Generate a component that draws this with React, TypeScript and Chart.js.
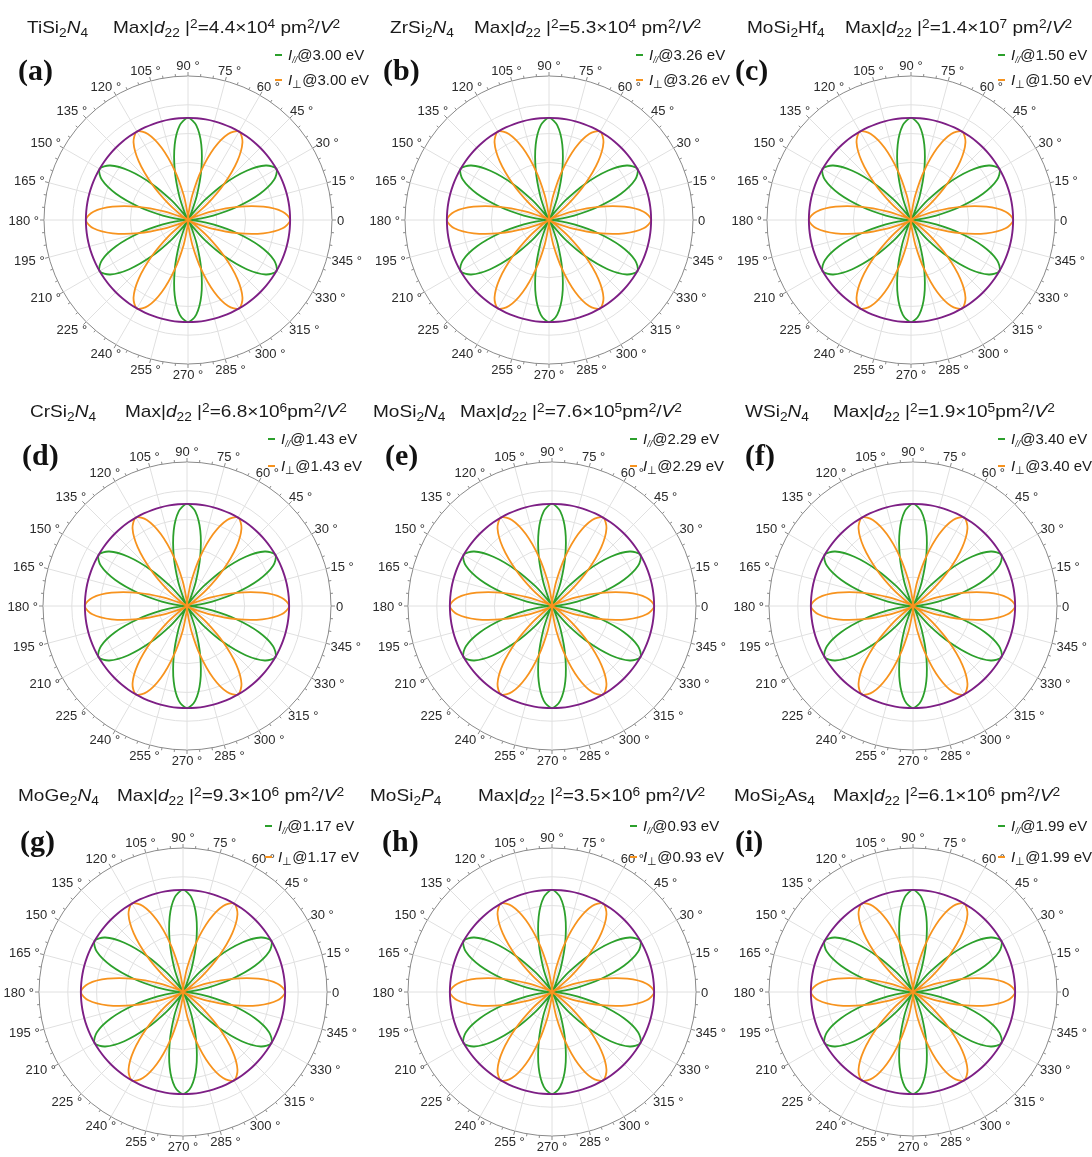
import React, { useEffect, useRef } from "react";
import { Chart, registerables } from "chart.js";

Chart.register(...registerables);

// ---------- DATA ----------
// polarisation angle (deg), counter-clockwise from the x axis
const ANGLES_DEG = [
  0, 5, 10, 15, 20, 25, 30, 35, 40, 45, 50, 55,
  60, 65, 70, 75, 80, 85, 90, 95, 100, 105, 110, 115,
  120, 125, 130, 135, 140, 145, 150, 155, 160, 165, 170, 175,
  180, 185, 190, 195, 200, 205, 210, 215, 220, 225, 230, 235,
  240, 245, 250, 255, 260, 265, 270, 275, 280, 285, 290, 295,
  300, 305, 310, 315, 320, 325, 330, 335, 340, 345, 350, 355,
];
// normalised SHG intensity, parallel component (green)
const I_PAR = [
  0, 0.07, 0.25, 0.5, 0.75, 0.93, 1, 0.93, 0.75, 0.5, 0.25, 0.07,
  0, 0.07, 0.25, 0.5, 0.75, 0.93, 1, 0.93, 0.75, 0.5, 0.25, 0.07,
  0, 0.07, 0.25, 0.5, 0.75, 0.93, 1, 0.93, 0.75, 0.5, 0.25, 0.07,
  0, 0.07, 0.25, 0.5, 0.75, 0.93, 1, 0.93, 0.75, 0.5, 0.25, 0.07,
  0, 0.07, 0.25, 0.5, 0.75, 0.93, 1, 0.93, 0.75, 0.5, 0.25, 0.07,
  0, 0.07, 0.25, 0.5, 0.75, 0.93, 1, 0.93, 0.75, 0.5, 0.25, 0.07,
];
// normalised SHG intensity, perpendicular component (orange)
const I_PERP = [
  1, 0.93, 0.75, 0.5, 0.25, 0.07, 0, 0.07, 0.25, 0.5, 0.75, 0.93,
  1, 0.93, 0.75, 0.5, 0.25, 0.07, 0, 0.07, 0.25, 0.5, 0.75, 0.93,
  1, 0.93, 0.75, 0.5, 0.25, 0.07, 0, 0.07, 0.25, 0.5, 0.75, 0.93,
  1, 0.93, 0.75, 0.5, 0.25, 0.07, 0, 0.07, 0.25, 0.5, 0.75, 0.93,
  1, 0.93, 0.75, 0.5, 0.25, 0.07, 0, 0.07, 0.25, 0.5, 0.75, 0.93,
  1, 0.93, 0.75, 0.5, 0.25, 0.07, 0, 0.07, 0.25, 0.5, 0.75, 0.93,
];
// total intensity (purple)
const I_TOTAL = [
  1, 1, 1, 1, 1, 1, 1, 1, 1, 1, 1, 1,
  1, 1, 1, 1, 1, 1, 1, 1, 1, 1, 1, 1,
  1, 1, 1, 1, 1, 1, 1, 1, 1, 1, 1, 1,
  1, 1, 1, 1, 1, 1, 1, 1, 1, 1, 1, 1,
  1, 1, 1, 1, 1, 1, 1, 1, 1, 1, 1, 1,
  1, 1, 1, 1, 1, 1, 1, 1, 1, 1, 1, 1,
];
// radial grid rings
const RING_TICKS = [0, 0.282, 0.564, 0.846, 1.128, 1.41];
const R_MAX = 1.41;
// labelled angles
const LABELLED_ANGLES = [0, 15, 30, 45, 60, 75, 90, 105, 120, 135, 150, 165, 180, 195, 210, 225, 240, 255, 270, 285, 300, 315, 330, 345];

const PANEL_LETTERS = ["(a)", "(b)", "(c)", "(d)", "(e)", "(f)", "(g)", "(h)", "(i)"];
const COMPOUND_BASE = ["TiSi", "ZrSi", "MoSi", "CrSi", "MoSi", "WSi", "MoGe", "MoSi", "MoSi"];
const COMPOUND_ANION = ["N", "N", "Hf", "N", "N", "N", "N", "P", "As"];
const ANION_ITALIC = [true, true, false, true, true, true, true, true, false];
const MAX_MANTISSA = ["4.4", "5.3", "1.4", "6.8", "7.6", "1.9", "9.3", "3.5", "6.1"];
const MAX_EXPONENT = ["4", "4", "7", "6", "5", "5", "6", "6", "6"];
const PHOTON_ENERGY = ["3.00", "3.26", "1.50", "1.43", "2.29", "3.40", "1.17", "0.93", "1.99"];

// ---------- LAYOUT ----------
const CENTERS = [
  [188, 220], [549, 220], [911, 220],
  [187, 606], [552, 606], [913, 606],
  [183, 992], [552, 992], [913, 992],
];
const COMPOUND_X = [27, 390, 747, 30, 373, 745, 18, 370, 734];
const MAX_X = [113, 474, 845, 125, 460, 833, 117, 478, 833];
const TITLE_Y = [30, 414, 798];
const LEGEND_X = [275, 636, 998, 268, 630, 998, 265, 630, 998];
const LEGEND_Y1 = [56, 440, 827];
const LEGEND_Y2 = [81, 467, 858];
const LETTER_X = [18, 383, 735, 22, 385, 745, 20, 382, 735];
const LETTER_Y = [71, 456, 842];
const MAX_SPACE = [true, true, true, false, false, false, true, true, true];

const GREEN = "#2ca02c";
const ORANGE = "#f7931e";
const PURPLE = "#7d1f85";
const FONT = '"Liberation Sans", Arial, sans-serif';

const R_PIX = 144;
const CANVAS = 364;
const PAD = (CANVAS - 2 * R_PIX) / 2;

// radar index i runs clockwise from the +x axis -> angle (360 - 5 i) mod 360
const N = ANGLES_DEG.length;
const radarIdx = (i: number) => (N - i) % N;
const RADAR_LABELS = ANGLES_DEG.map((_, i) => ANGLES_DEG[radarIdx(i)]);
const toRadar = (arr: number[]) => arr.map((_, i) => arr[radarIdx(i)]);

const angleLabelPlugin = {
  id: "angleLabels",
  afterDraw(chart: any) {
    const scale = chart.scales.r;
    const ctx = chart.ctx;
    const R = scale.drawingArea;
    ctx.save();
    ctx.strokeStyle = "#8a8a8a";
    ctx.lineWidth = 1;
    for (let i = 0; i < RADAR_LABELS.length; i++) {
      const deg = RADAR_LABELS[i];
      const len = deg % 15 === 0 ? 4 : 2.5;
      const a = scale.getPointPosition(i, R);
      const b = scale.getPointPosition(i, R + len);
      ctx.beginPath();
      ctx.moveTo(a.x, a.y);
      ctx.lineTo(b.x, b.y);
      ctx.stroke();
    }
    ctx.font = "13px " + FONT;
    ctx.fillStyle = "#2a2a2a";
    ctx.textAlign = "center";
    ctx.textBaseline = "middle";
    const H = 11;
    for (let i = 0; i < RADAR_LABELS.length; i++) {
      const deg = RADAR_LABELS[i];
      if (!LABELLED_ANGLES.includes(deg)) continue;
      const text = deg === 0 ? "0" : `${deg} °`;
      const w = ctx.measureText(text).width;
      const p = scale.getPointPosition(i, R + 5);
      const rad = (deg * Math.PI) / 180;
      ctx.fillText(text, p.x + (Math.cos(rad) * w) / 2, p.y - (Math.sin(rad) * H) / 2 + 1);
    }
    ctx.restore();
  },
};

function PolarPanel({ idx }: { idx: number }) {
  const ref = useRef<HTMLCanvasElement>(null);
  useEffect(() => {
    if (!ref.current) return;
    const chart = new Chart(ref.current, {
      type: "radar",
      data: {
        labels: RADAR_LABELS.map(String),
        datasets: [
          { label: "total", data: toRadar(I_TOTAL), borderColor: PURPLE, borderWidth: 1.9, pointRadius: 0, fill: false, tension: 0.3 },
          { label: "perp", data: toRadar(I_PERP), borderColor: ORANGE, borderWidth: 1.8, pointRadius: 0, fill: false, tension: 0.3 },
          { label: "par", data: toRadar(I_PAR), borderColor: GREEN, borderWidth: 1.8, pointRadius: 0, fill: false, tension: 0.3 },
        ],
      },
      options: {
        responsive: false,
        animation: false,
        layout: { padding: PAD },
        plugins: { legend: { display: false }, tooltip: { enabled: false } },
        scales: {
          r: {
            min: 0,
            max: R_MAX,
            startAngle: 90,
            afterBuildTicks: (scale: any) => {
              scale.ticks = RING_TICKS.map((v) => ({ value: v }));
            },
            ticks: { display: false },
            pointLabels: { display: false },
            grid: {
              circular: true,
              color: (c: any) => (c.index === RING_TICKS.length - 1 ? "#8a8a8a" : "#e0e0e0"),
              lineWidth: 1,
            },
            angleLines: {
              color: "#e0e0e0",
              lineWidth: (c: any) => (RADAR_LABELS[c.index] % 15 === 0 ? 1 : 0),
            },
          },
        },
      },
      plugins: [angleLabelPlugin],
    } as any);
    return () => chart.destroy();
  }, [idx]);
  const [cx, cy] = CENTERS[idx];
  return (
    <canvas
      ref={ref}
      width={CANVAS}
      height={CANVAS}
      style={{ position: "absolute", left: cx - CANVAS / 2, top: cy - CANVAS / 2, width: CANVAS, height: CANVAS }}
    />
  );
}

const Sub = ({ children }: any) => (
  <span style={{ fontSize: "0.72em", position: "relative", top: "0.32em", lineHeight: 0 }}>{children}</span>
);
const Sup = ({ children }: any) => (
  <span style={{ fontSize: "0.72em", position: "relative", top: "-0.45em", lineHeight: 0 }}>{children}</span>
);

function PanelText({ idx }: { idx: number }) {
  const row = Math.floor(idx / 3);
  const titleStyle: React.CSSProperties = {
    position: "absolute",
    top: TITLE_Y[row] - 12,
    height: 24,
    lineHeight: "24px",
    font: "17px " + FONT,
    color: "#1a1a1a",
    whiteSpace: "nowrap",
    transform: "scaleX(1.12)",
    transformOrigin: "left center",
  };
  const legendStyle: React.CSSProperties = {
    position: "absolute",
    left: LEGEND_X[idx],
    height: 20,
    lineHeight: "20px",
    font: "15px " + FONT,
    color: "#1a1a1a",
    whiteSpace: "nowrap",
  };
  const dash = (color: string) => (
    <span style={{ display: "inline-block", width: 7, height: 2, background: color, verticalAlign: "middle", marginRight: 6, marginBottom: 2 }} />
  );
  return (
    <>
      <div style={{ ...titleStyle, left: COMPOUND_X[idx] }}>
        {COMPOUND_BASE[idx]}
        <Sub>2</Sub>
        {ANION_ITALIC[idx] ? <i>{COMPOUND_ANION[idx]}</i> : COMPOUND_ANION[idx]}
        <Sub>4</Sub>
      </div>
      <div style={{ ...titleStyle, left: MAX_X[idx] }}>
        Max|<i>d</i>
        <Sub>22</Sub>
        {" "}|<Sup>2</Sup>={MAX_MANTISSA[idx]}×10<Sup>{MAX_EXPONENT[idx]}</Sup>
        {MAX_SPACE[idx] ? " " : ""}pm<Sup>2</Sup>/<i>V</i>
        <Sup>2</Sup>
      </div>
      <div style={{ ...legendStyle, top: LEGEND_Y1[row] - 10 }}>
        {dash(GREEN)}
        <i>I</i>
        <span style={{ fontSize: "0.6em", position: "relative", top: "0.35em", fontStyle: "italic" }}>//</span>@{PHOTON_ENERGY[idx]} eV
      </div>
      <div style={{ ...legendStyle, top: LEGEND_Y2[row] - 10 }}>
        {dash(ORANGE)}
        <i>I</i>
        <span style={{ fontSize: "0.75em", position: "relative", top: "0.3em" }}>⊥</span>@{PHOTON_ENERGY[idx]} eV
      </div>
      <div
        style={{
          position: "absolute",
          left: LETTER_X[idx],
          top: LETTER_Y[row] - 18,
          height: 36,
          lineHeight: "36px",
          font: 'bold 30px "Liberation Serif", "Times New Roman", serif',
          color: "#111",
        }}
      >
        {PANEL_LETTERS[idx]}
      </div>
    </>
  );
}

export default function App() {
  return (
    <div style={{ position: "absolute", left: 0, top: 0, width: 1092, height: 1157, overflow: "hidden", background: "#fff" }}>
      {PANEL_LETTERS.map((_, i) => (
        <PolarPanel key={"c" + i} idx={i} />
      ))}
      {PANEL_LETTERS.map((_, i) => (
        <PanelText key={"t" + i} idx={i} />
      ))}
    </div>
  );
}
